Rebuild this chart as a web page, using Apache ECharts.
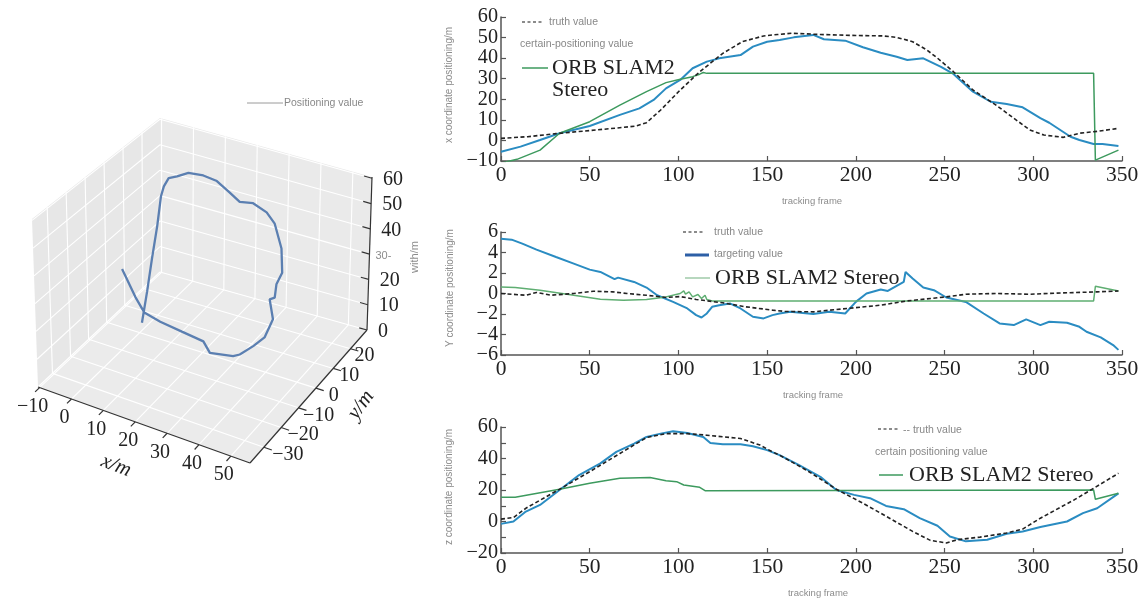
<!DOCTYPE html>
<html><head><meta charset="utf-8">
<script src="https://cdn.jsdelivr.net/npm/echarts@6/dist/echarts.min.js"></script>
<style>html,body{margin:0;padding:0;background:#fff}#c{width:1146px;height:602px}</style>
</head><body><div id="c"></div>
<script>
// ================= DATA =================
// --- x coordinate chart ---
const xTruthF = [0,15,31,50,65,76,82,90,101,112,125,136,148,156,164,180,200,215,223,232,240,246,255,266,279,289,298,306,317,326,337,348];
const xTruthV = [1,1.8,3.3,4.8,6,7,8.6,14.8,24.5,33.4,42.3,48,50.8,51.5,52.1,51.5,51,50.8,50.1,48,44,40,33.4,24.5,17.2,10.8,5.1,2.6,1.5,3.5,4.5,5.9];
const xPosF = [0,11,22,33,50,67,78,86,93,101,108,116,123,135,142,150,157,165,176,182,194,204,214,223,229,238,248,255,266,276,285,294,304,309,321,326,334,339,348];
const xPosV = [-5.5,-3,0.2,3.5,7,12.4,15.6,19.7,25.3,29.4,35.1,38.3,39.9,41.5,45.6,48,48.8,50.1,51.3,49.2,48.5,45.3,42.6,40.7,39.1,39.9,35.8,32.3,23.7,18.8,17.7,16.1,10.8,8.6,1.8,0.2,-1.7,-1.7,-2.7];
const xOrbF = [0,9,22,33,50,67,82,93,101,108,112,114,116,334,335,348];
const xOrbV = [-11,-9.2,-4.7,3.5,9.1,17.2,23.7,28.1,29.7,31,32.2,33,32.6,32.6,-9.6,-4.7];
// --- Y coordinate chart ---
const yTruthF = [0,14,20,28,41,52,63,71,82,93,101,110,125,138,153,160,176,195,214,229,242,251,262,279,298,317,336,348];
const yTruthV = [0,-0.17,0.1,-0.17,0,0.22,0.16,0,-0.17,-0.39,-0.3,-0.58,-0.91,-1.3,-1.62,-1.75,-1.79,-1.46,-1.14,-0.72,-0.49,-0.33,-0.07,0,-0.07,0.06,0.16,0.25];
const yPosF = [0,6,12,20,31,41,50,56,64,66,75,82,88,97,105,110,113,116,119,123,129,135,142,148,153,157,163,176,185,194,200,206,214,218,227,228,232,238,244,251,262,272,281,289,296,304,309,319,326,330,338,345,348];
const yPosV = [5.35,5.25,4.86,4.28,3.56,2.92,2.33,2.1,1.4,1.55,1.13,0.58,-0.17,-0.82,-1.46,-2.11,-2.34,-1.95,-1.3,-1.14,-0.97,-1.46,-2.27,-2.43,-2.11,-1.95,-1.79,-2.0,-1.79,-1.95,-0.82,0,0.39,0.25,1.13,2.1,1.46,0.58,0.32,-0.39,-0.82,-1.95,-2.92,-3.08,-2.53,-3.08,-2.76,-2.86,-3.25,-3.73,-4.28,-5.03,-5.5];
const yOrbF = [0,8,22,41,56,69,82,93,101,103,104,106,108,111,113,115,116,119,334,335,348];
const yOrbV = [0.64,0.58,0.32,-0.17,-0.55,-0.65,-0.58,-0.33,0,0.25,-0.07,0.16,-0.33,-0.1,-0.49,-0.17,-0.58,-0.72,-0.72,0.71,0.25];
// --- z coordinate chart ---
const zTruthF = [0,7,14,33,50,67,82,93,105,116,135,146,153,157,162,172,189,204,219,232,242,251,257,270,285,294,304,323,334,348];
const zTruthV = [1.5,2.5,8.4,20.5,31.6,43.2,53.3,55.8,55.8,54.8,52.7,48.5,44.2,42.1,39,32.7,20.5,11.6,2.1,-6.3,-12,-13.6,-11.6,-9.9,-7.3,-4.8,2.1,13.7,21.1,30.6];
const zPosF = [0,7,14,22,33,44,56,65,75,82,90,97,105,114,118,125,135,142,150,157,168,180,189,199,208,217,227,236,246,253,262,274,285,294,304,319,328,336,348];
const zPosV = [-1.5,0,6.3,10.5,20,29.5,36.9,44.2,49.5,53.7,55.8,57.3,56.2,53.7,49.9,49.1,49.1,47.8,45.3,42.1,35.8,28.4,20,16.9,14.8,9.9,7.8,2.1,-2.7,-9.5,-12.6,-11.6,-7.8,-6.3,-3.5,0,5.3,8.4,17.9];
const zOrbF = [0,8,33,50,67,84,93,99,103,112,115,116,334,335,348];
const zOrbV = [15.4,15.4,20.5,24.3,27.4,28,25.9,25.3,23.2,21.7,19.6,20,20,14.1,17.9];
// --- 3D trajectory ---
const trajX = [-6.5,-4.2,-2.0,0.3,2.1,3.3,5.1,8.0,11.8,16.7,20.9,24.8,27.9,32.1,36.1,38.1,39.5,39.3,38.1,37.9,36.6,38.0,35.7,32.7,28.9,26.9,19.5,17.3,10.4,3.7,-1.1,-3.4,-7.0];
const trajY = [12.5,11.5,10.5,9.5,8.5,8,7.5,7,6.5,6,6,6.2,6.2,6.1,6.5,7.5,9,10,9,8.5,8,7.5,7,6,5.2,5,5,5.2,5.3,5,4.5,3.7,2.8];
const trajZ = [-6.9,6.5,20.6,34.6,47.2,51.7,55.8,57.8,60.8,61.9,61.3,58.2,55.8,56.9,54.6,50.4,40.5,30.5,26.3,21.5,20.7,14.0,6.6,2.9,-1.1,-2.3,-3.8,-0.4,0.7,2.2,4.3,9.8,19.7];
// --- 3D tick labels ---
const ax3XTicks = [-10,0,10,20,30,40,50];
const ax3YTicks = [-30,-20,-10,0,10,20];
const ax3ZTicks = [0,10,20,30,40,50,60];
const ax3ZLabels = ['0','10','20','30-','40','50','60'];

// ================= LAYOUT / PROJECTION =================
const RANGE3 = {x:[-10.5,56], y:[-38,29.5], z:[0,60.5]};
const BOX = {c000:[38,387], c100:[250,463], c010:[160,272], c110:[367,330],
             c001:[32,219], c101:[252,291], c011:[160,118], c111:[372,177]};
function L(a,b,t){return [a[0]+(b[0]-a[0])*t, a[1]+(b[1]-a[1])*t];}
function proj(x,y,z){
  const u=(x-RANGE3.x[0])/(RANGE3.x[1]-RANGE3.x[0]);
  const v=(y-RANGE3.y[0])/(RANGE3.y[1]-RANGE3.y[0]);
  const w=(z-RANGE3.z[0])/(RANGE3.z[1]-RANGE3.z[0]);
  const p00=L(BOX.c000,BOX.c100,u), p10=L(BOX.c010,BOX.c110,u);
  const p01=L(BOX.c001,BOX.c101,u), p11=L(BOX.c011,BOX.c111,u);
  return L(L(p00,p10,v), L(p01,p11,v), w);
}
const [X0,X1]=RANGE3.x, [Y0,Y1]=RANGE3.y, [Z0,Z1]=RANGE3.z;
const panes = [
  {pts:[[X0,Y0,Z0],[X1,Y0,Z0],[X1,Y1,Z0],[X0,Y1,Z0]], fill:'#ebebeb'},
  {pts:[[X0,Y0,Z0],[X0,Y1,Z0],[X0,Y1,Z1],[X0,Y0,Z1]], fill:'#e7e7e7'},
  {pts:[[X0,Y1,Z0],[X1,Y1,Z0],[X1,Y1,Z1],[X0,Y1,Z1]], fill:'#eaeaea'}
];
function seg(a,b){const p=proj(...a), q=proj(...b); return [p[0],p[1],q[0],q[1]];}
const gridSegs = [];
ax3XTicks.forEach(x=>{gridSegs.push(seg([x,Y0,Z0],[x,Y1,Z0])); gridSegs.push(seg([x,Y1,Z0],[x,Y1,Z1]));});
ax3YTicks.forEach(y=>{gridSegs.push(seg([X0,y,Z0],[X1,y,Z0])); gridSegs.push(seg([X0,y,Z0],[X0,y,Z1]));});
ax3ZTicks.forEach(z=>{gridSegs.push(seg([X0,Y0,z],[X0,Y1,z])); gridSegs.push(seg([X0,Y1,z],[X1,Y1,z]));});
const axisSegs = [seg([X0,Y0,Z0],[X1,Y0,Z0]), seg([X1,Y0,Z0],[X1,Y1,Z0]), seg([X1,Y1,Z0],[X1,Y1,Z1])];
ax3XTicks.forEach(x=>axisSegs.push(seg([x,Y0,Z0],[x,Y0-2.5,Z0])));
ax3YTicks.forEach(y=>axisSegs.push(seg([X1,y,Z0],[X1+2.5,y,Z0])));
ax3ZTicks.forEach(z=>axisSegs.push(seg([X1,Y1,z],[X1-2.5,Y1,z])));
const serif = '"Liberation Serif","Times New Roman",serif';
const sans = '"Liberation Sans",Arial,sans-serif';
const labels3 = [];
ax3XTicks.forEach(x=>{const p=proj(x,Y0,Z0); labels3.push({p:[p[0]-7,p[1]+19], text:String(x).replace('-','\u2212'), font:'20px '+serif, align:'center'});});
ax3YTicks.forEach((y,i)=>{const p=proj(X1,y,Z0); labels3.push({p:[p[0]+24-2*i,p[1]+7.5], text:String(y).replace('-','\u2212'), font:'20px '+serif, align:'center'});});
ax3ZTicks.forEach((z,i)=>{const p=proj(X1,Y1,z); const special=ax3ZLabels[i]==='30-';
  labels3.push({p:[p[0]+(special?6:11),p[1]+1.5], text:ax3ZLabels[i], font:special?('11px '+sans):('20px '+serif), align:'left', fill:special?'#8c8c8c':'#222'});});
labels3.push({p:[116,466], text:'x/m', font:'italic 21px '+serif, align:'center', rot:-0.38});
labels3.push({p:[361,405], text:'y/m', font:'italic 21px '+serif, align:'center', rot:0.95});
labels3.push({p:[415,257], text:'with/m', font:'11px '+sans, align:'center', rot:Math.PI/2, fill:'#8c8c8c'});

// ================= CHART =================
const chart = echarts.init(document.getElementById('c'));
const pair = (F,V)=>F.map((f,i)=>[f,V[i]]);
const minus = v=>String(v).replace('-','\u2212');
const AX = '#555';
function xAx(i){return {gridIndex:i,type:'value',min:0,max:350,interval:50,
  axisLine:{onZero:false,lineStyle:{color:AX,width:1.5}}, axisTick:{inside:true,length:5,lineStyle:{color:AX,width:1.2}},
  splitLine:{show:false}, axisLabel:{color:'#222',fontFamily:serif,fontSize:21.5,margin:3,showMinLabel:true,showMaxLabel:true,formatter:minus}};}
function yAx(i,min,max,interval,minor){return {gridIndex:i,type:'value',min:min,max:max,interval:interval,
  axisLine:{show:true,onZero:false,lineStyle:{color:AX,width:1.5}}, axisTick:{show:true,inside:true,length:5,lineStyle:{color:AX,width:1.2}},
  minorTick:{show:!!minor,splitNumber:2,length:5,lineStyle:{color:AX,width:1.2}},
  splitLine:{show:false}, axisLabel:{color:'#222',fontFamily:serif,fontSize:20.2,margin:3,showMinLabel:true,showMaxLabel:true,hideOverlap:false,formatter:minus}};}
function ln(name,data,gi,color,width,dash){return {name:name,type:'line',xAxisIndex:gi,yAxisIndex:gi,data:data,
  showSymbol:false,symbol:'none',lineStyle:{color:color,width:width,type:dash||'solid'},z:dash?5:3,animation:false};}
const TRUTH='#222', BLUE='#2a8cc2', GREEN='#3d9a5e', GREEN2='#5fae72';

const option = {
  animation:false,
  backgroundColor:'#fff',
  grid:[
    {left:501,right:24,top:17,bottom:441},
    {left:501,right:24,top:232,bottom:247},
    {left:501,right:24,top:427,bottom:49},
    {left:0,top:0,width:1146,height:602}
  ],
  xAxis:[xAx(0),xAx(1),xAx(2),{gridIndex:3,type:'value',min:0,max:1146,show:false}],
  yAxis:[yAx(0,-10,60,10),yAx(1,-6,6,2),yAx(2,-20,60,20,true),{gridIndex:3,type:'value',min:0,max:602,inverse:true,show:false}],
  series:[
    ln('truth value',pair(xTruthF,xTruthV),0,TRUTH,1.6,[4,2.5]),
    ln('positioning value',pair(xPosF,xPosV),0,BLUE,2),
    ln('ORB SLAM2 Stereo',pair(xOrbF,xOrbV),0,GREEN,1.5),
    ln('truth value',pair(yTruthF,yTruthV),1,TRUTH,1.6,[4,2.5]),
    ln('targeting value',pair(yPosF,yPosV),1,BLUE,2),
    ln('ORB SLAM2 Stereo',pair(yOrbF,yOrbV),1,GREEN2,1.5),
    ln('truth value',pair(zTruthF,zTruthV),2,TRUTH,1.6,[4,2.5]),
    ln('positioning value',pair(zPosF,zPosV),2,BLUE,2),
    ln('ORB SLAM2 Stereo',pair(zOrbF,zOrbV),2,GREEN,1.5),
    // ---- 3D panes ----
    {type:'custom',xAxisIndex:3,yAxisIndex:3,clip:false,z:0,silent:true,
     data:panes.map((p,i)=>[i,0]),
     renderItem:(params,api)=>{const pn=panes[api.value(0)];
       return {type:'polygon',shape:{points:pn.pts.map(c=>api.coord(proj(...c)))},style:{fill:pn.fill}};}},
    // ---- 3D grid lines ----
    {type:'custom',xAxisIndex:3,yAxisIndex:3,clip:false,z:1,silent:true,encode:{x:[0,2],y:[1,3]},
     data:gridSegs,
     renderItem:(params,api)=>{const a=api.coord([api.value(0),api.value(1)]), b=api.coord([api.value(2),api.value(3)]);
       return {type:'line',shape:{x1:a[0],y1:a[1],x2:b[0],y2:b[1]},style:{stroke:'#ffffff',lineWidth:1.1}};}},
    // ---- 3D axis lines & ticks ----
    {type:'custom',xAxisIndex:3,yAxisIndex:3,clip:false,z:2,silent:true,encode:{x:[0,2],y:[1,3]},
     data:axisSegs,
     renderItem:(params,api)=>{const a=api.coord([api.value(0),api.value(1)]), b=api.coord([api.value(2),api.value(3)]);
       return {type:'line',shape:{x1:a[0],y1:a[1],x2:b[0],y2:b[1]},style:{stroke:'#333',lineWidth:1.2}};}},
    // ---- 3D trajectory ----
    {name:'Positioning value',type:'line',xAxisIndex:3,yAxisIndex:3,clip:false,z:4,showSymbol:false,symbol:'none',
     data:trajX.map((x,i)=>proj(x,trajY[i],trajZ[i])),
     lineStyle:{color:'#5b7fb1',width:2.3}},
    // ---- 3D labels ----
    {type:'custom',xAxisIndex:3,yAxisIndex:3,clip:false,z:5,silent:true,
     data:labels3.map((l,i)=>[l.p[0],l.p[1],i]),
     renderItem:(params,api)=>{const l=labels3[api.value(2)]; const c=api.coord([api.value(0),api.value(1)]);
       return {type:'text',x:c[0],y:c[1],rotation:l.rot||0,
         style:{text:l.text,font:l.font,fill:l.fill||'#222',align:l.align,verticalAlign:'middle'}};}}
  ],
  graphic:[
    // 3D legend
    {type:'line',shape:{x1:247,y1:103,x2:283,y2:103},style:{stroke:'#9a9a9a',lineWidth:1}},
    {type:'text',x:284,y:103,style:{text:'Positioning value',font:'10.5px '+sans,fill:'#888',verticalAlign:'middle'}},
    // chart 1 legend
    {type:'line',shape:{x1:522,y1:22,x2:543,y2:22},style:{stroke:'#666',lineWidth:1.3,lineDash:[3,2.5]}},
    {type:'text',x:549,y:22,style:{text:'truth value',font:'10.5px '+sans,fill:'#888',verticalAlign:'middle'}},
    {type:'text',x:520,y:44,style:{text:'certain-positioning value',font:'10.5px '+sans,fill:'#888',verticalAlign:'middle'}},
    {type:'line',shape:{x1:522,y1:68,x2:548,y2:68},style:{stroke:GREEN,lineWidth:1.5}},
    {type:'text',x:552,y:68,style:{text:'ORB SLAM2',font:'22px '+serif,fill:'#222',verticalAlign:'middle'}},
    {type:'text',x:552,y:90,style:{text:'Stereo',font:'22px '+serif,fill:'#222',verticalAlign:'middle'}},
    // chart 2 legend
    {type:'line',shape:{x1:683,y1:232,x2:705,y2:232},style:{stroke:'#666',lineWidth:1.3,lineDash:[3,2.5]}},
    {type:'text',x:714,y:232,style:{text:'truth value',font:'10.5px '+sans,fill:'#888',verticalAlign:'middle'}},
    {type:'line',shape:{x1:685,y1:255,x2:709,y2:255},style:{stroke:'#2d5fa6',lineWidth:3}},
    {type:'text',x:714,y:254,style:{text:'targeting value',font:'10.5px '+sans,fill:'#888',verticalAlign:'middle'}},
    {type:'line',shape:{x1:685,y1:278,x2:710,y2:278},style:{stroke:'#9fcaa8',lineWidth:1.5}},
    {type:'text',x:715,y:278,style:{text:'ORB SLAM2 Stereo',font:'22px '+serif,fill:'#222',verticalAlign:'middle'}},
    // chart 3 legend
    {type:'line',shape:{x1:878,y1:429,x2:900,y2:429},style:{stroke:'#666',lineWidth:1.3,lineDash:[3,2.5]}},
    {type:'text',x:903,y:430,style:{text:'-- truth value',font:'10.5px '+sans,fill:'#888',verticalAlign:'middle'}},
    {type:'text',x:875,y:452,style:{text:'certain positioning value',font:'10.5px '+sans,fill:'#888',verticalAlign:'middle'}},
    {type:'line',shape:{x1:879,y1:475,x2:903,y2:475},style:{stroke:GREEN,lineWidth:1.5}},
    {type:'text',x:909,y:475,style:{text:'ORB SLAM2 Stereo',font:'22px '+serif,fill:'#222',verticalAlign:'middle'}},
    // axis names
    {type:'text',x:449,y:85,rotation:Math.PI/2,style:{text:'x coordinate positioning/m',font:'10px '+sans,fill:'#8c8c8c',align:'center',verticalAlign:'middle'}},
    {type:'text',x:450,y:288,rotation:Math.PI/2,style:{text:'Y coordinate positioning/m',font:'10px '+sans,fill:'#8c8c8c',align:'center',verticalAlign:'middle'}},
    {type:'text',x:449,y:487,rotation:Math.PI/2,style:{text:'z coordinate positioning/m',font:'10px '+sans,fill:'#8c8c8c',align:'center',verticalAlign:'middle'}},
    {type:'text',x:812,y:201,style:{text:'tracking frame',font:'9.5px '+sans,fill:'#8c8c8c',align:'center',verticalAlign:'middle'}},
    {type:'text',x:813,y:395,style:{text:'tracking frame',font:'9.5px '+sans,fill:'#8c8c8c',align:'center',verticalAlign:'middle'}},
    {type:'text',x:818,y:593,style:{text:'tracking frame',font:'9.5px '+sans,fill:'#8c8c8c',align:'center',verticalAlign:'middle'}}
  ]
};
chart.setOption(option);
</script></body></html>
